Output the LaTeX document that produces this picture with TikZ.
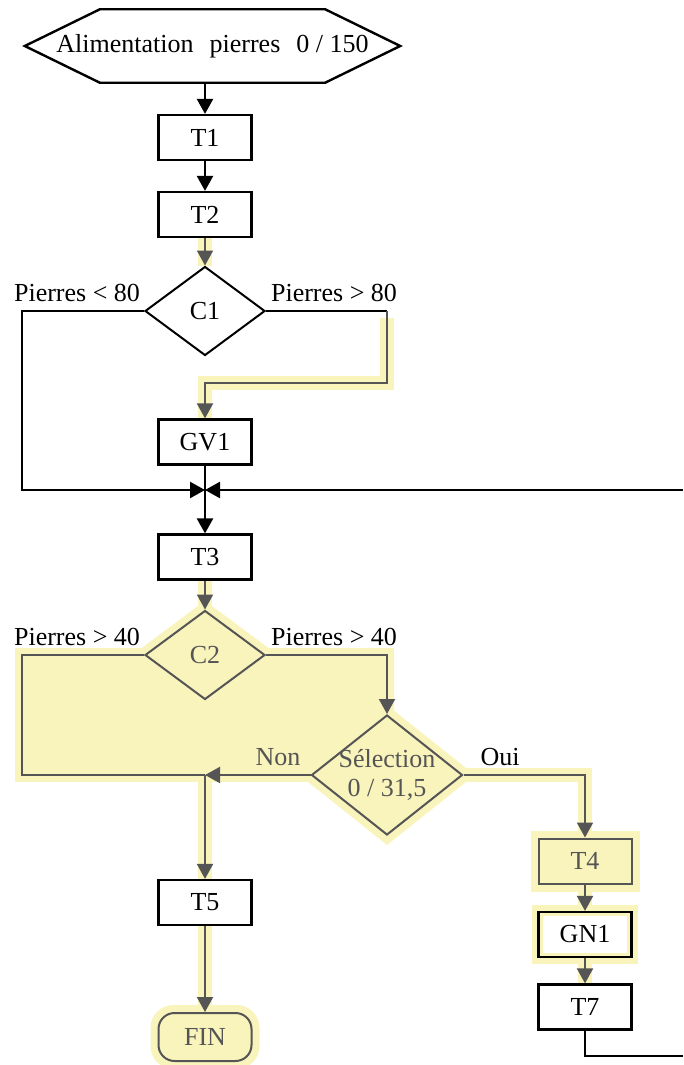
\documentclass[tikz,border=0pt]{standalone}
\usepackage{fontspec}
\setmainfont{Liberation Serif}
\usetikzlibrary{shapes.geometric,arrows.meta,calc}
\definecolor{hl}{RGB}{249,243,188}
\definecolor{gl}{RGB}{85,85,85}
\newcommand\myfs{\fontsize{26}{28}\selectfont}
\pgfdeclarelayer{bg}
\pgfsetlayers{bg,main}
\begin{document}
\begin{tikzpicture}[x=1pt,y=-1pt,
  every node/.style={font=\myfs, inner sep=0pt},
  box/.style={draw, line width=2.2pt, minimum width=93pt, minimum height=45pt},
  gbox/.style={box, draw=gl, line width=2pt, text=gl},
  dia/.style={diamond, draw, line width=2pt, minimum width=120pt, minimum height=89pt},
  arr/.style={-{Triangle[width=16pt,length=15pt]}},
  blk/.style={line width=2.4pt},
  gry/.style={draw=gl, line width=2pt, color=gl},
  halo/.style={draw=hl, line width=14pt}]
\useasboundingbox (0,0) rectangle (683,1065);

% nodes
\node[minimum width=375pt, minimum height=73pt] (hex) at (212.5,46) {Alimentation\hspace{16pt}pierres\hspace{16pt}0 / 150};
\draw[blk] (hex.west) -- ($(hex.north west)+(75,0)$) -- ($(hex.north east)+(-75,0)$) -- (hex.east)
  -- ($(hex.south east)+(-75,0)$) -- ($(hex.south west)+(75,0)$) -- cycle;
\node[box] (T1) at (205,137.5) {T1};
\node[box] (T2) at (205,214.5) {T2};
\node[dia] (C1) at (205,311) {C1};
\node (l1) at (77,293) {Pierres < 80};
\node (l2) at (334,293) {Pierres > 80};
\node[box] (GV1) at (205,442) {GV1};
\coordinate (J) at (205,490);
\coordinate (Rin) at (683,490);
\node[box] (T3) at (205,557) {T3};
\node[dia, draw=gl, fill=hl, text=gl] (C2) at (205,655) {C2};
\node (l3) at (77,637) {Pierres > 40};
\node (l4) at (334,637) {Pierres > 40};
\node[diamond, draw=gl, line width=2pt, fill=hl, minimum width=151pt, minimum height=120pt,
  label={[text=gl, align=center, font=\myfs]center:Sélection\\[1pt]0 / 31,5}] (sel) at (387,775) {};
\node[text=gl] (non) at (278,757) {Non};
\node (oui) at (500,757) {Oui};
\coordinate (N) at (205,775);
\node[gbox, fill=hl] (T4) at (585,861) {T4};
\node[box] (GN1) at (585,934.5) {GN1};
\node[box] (T7) at (585,1007) {T7};
\coordinate (Rout) at (683,1056);
\node[box, fill=white] (T5) at (205,902.5) {T5};
\node[draw=gl, line width=2pt, fill=hl, text=gl, rounded corners=16pt,
  minimum width=93pt, minimum height=48pt] (FIN) at (205,1037) {FIN};

% highlight layer
\begin{pgfonlayer}{bg}
  \fill[white] (0,0) rectangle (683,1065);
  \fill[hl] (15,648) rectangle (394,782);
  \draw[halo] (T2.south) -- (C1.north);
  \draw[halo] (387,318) -- (387,383) -- (205,383) -- (GV1.north);
  \draw[halo] (T3.south) -- (C2.north);
  \draw[halo] (C2.north) -- (C2.east) -- (387,655) -- (sel.north);
  \draw[halo] (C2.north) -- (C2.west) -- (22,655) -- (22,775);
  \draw[halo, line join=miter] (sel.north) -- (sel.east) -- (sel.south) -- (sel.west) -- cycle;
  \draw[halo] (sel.east) -- (585,775) -- (T4.north);
  \draw[halo] (N) -- (T5.north);
  \draw[halo] (T5.south) -- (FIN.north);
  \draw[halo] (T4.south west) rectangle (T4.north east);
  \draw[halo] (T4.south) -- (GN1.north);
  \draw[halo, line width=11pt] (GN1.south west) rectangle (GN1.north east);
  \draw[halo] (GN1.south) -- (T7.north);
  \draw[halo, rounded corners=16pt] (FIN.south west) rectangle (FIN.north east);
\end{pgfonlayer}

% connectors
\draw[blk, arr] (hex.south -| T1.north) -- (T1.north);
\draw[blk, arr] (T1.south) -- (T2.north);
\draw[gry, arr] (T2.south) -- (C1.north);
\draw[blk, arr] (C1.west) -- (22,311) -- (22,490) -- (J);
\draw[blk] (C1.east) -- (387,311);
\draw[gry, arr] (387,311) -- (387,383) -- (205,383) -- (GV1.north);
\draw[blk] (GV1.south) -- (J);
\draw[blk, arr] (Rin) -- (J);
\draw[blk, arr] (J) -- (T3.north);
\draw[gry, arr] (T3.south) -- (C2.north);
\draw[gry] (C2.west) -- (22,655) -- (22,775) -- (N);
\draw[gry, arr] (C2.east) -- (387,655) -- (sel.north);
\draw[gry, arr] (sel.west) -- (N);
\draw[gry, arr] (N) -- (T5.north);
\draw[gry, arr] (sel.east) -- (585,775) -- (T4.north);
\draw[gry, arr] (T4.south) -- (GN1.north);
\draw[gry, arr] (GN1.south) -- (T7.north);
\draw[gry, arr] (T5.south) -- (FIN.north);
\draw[blk] (T7.south) -- (585,1056) -- (Rout);
\end{tikzpicture}
\end{document}
